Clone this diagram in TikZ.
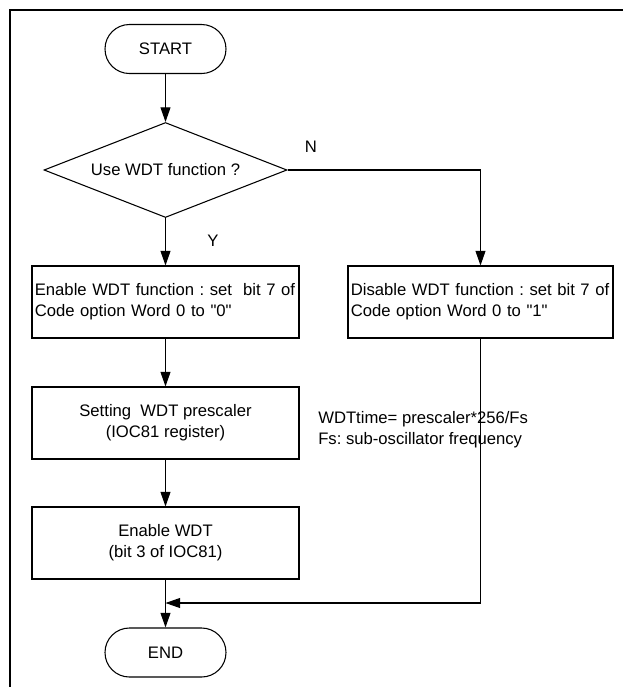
\documentclass[tikz,border=0pt]{standalone}
\usepackage{fontspec}
\setmainfont{Liberation Sans}[Ligatures=TeXOff]
\usetikzlibrary{arrows.meta,shapes.geometric}

\tikzset{
  base/.style={draw=black, line width=0.8pt, font=\fontsize{12.5pt}{15.75pt}\selectfont\frenchspacing},
  terminal/.style={base, rectangle, rounded corners=18.3pt,
    minimum width=90.75pt, minimum height=36.75pt, inner sep=0pt},
  decision/.style={base, diamond, aspect=2.56, minimum width=182.25pt, minimum height=71.25pt,
    inner sep=0pt},
  stepbox/.style={base, rectangle, minimum width=200.25pt, minimum height=54pt,
    inner xsep=2pt, inner ysep=0pt, align=center},
  leftbox/.style={stepbox, text width=196pt, align=left},
  flow/.style={line width=0.8pt, -{Triangle[length=11pt,width=7.5pt]}},
  label/.style={font=\fontsize{12.5pt}{15.75pt}\selectfont\frenchspacing, inner sep=0pt},
  frame/.style={line width=1.6pt, line cap=rect}
}

\begin{document}
\begin{tikzpicture}[x=0.75pt, y=-0.75pt]
  \useasboundingbox (0,0) rectangle (623,687);

  % page frame: top and left edges
  \draw[frame] (10,687) -- (10,10) -- (623,10);

  % flow nodes
  \node[terminal] (start) at (165.5,49) {START};
  \node[decision] (dec) at (165.5,170) {Use WDT function ?};
  \node[leftbox] (en) at (165.5,302)
    {\mbox{Enable WDT function : set~ bit 7 of}\\Code option Word 0 to "0"};
  \node[leftbox, minimum width=198.75pt, text width=194.5pt] (dis) at (480.5,302)
    {\mbox{Disable WDT function : set bit 7 of}\\Code option Word 0 to "1"};
  \node[stepbox] (pre) at (165.5,423) {Setting~ WDT prescaler\\(IOC81 register)};
  \node[stepbox] (wdt) at (165.5,543) {Enable WDT\\(bit 3 of IOC81)};
  \node[terminal] (end) at (165.5,652.5) {END};
  \coordinate (merge) at (165.5,603);

  % branch labels and note
  \node[label] (no) at (311,147) {N};
  \node[label] (yes) at (213,241) {Y};
  \node[label, anchor=west, align=left] (note) at (318,430)
    {WDTtime= prescaler*256/Fs\\Fs: sub-oscillator frequency};

  % connectors
  \draw[flow] (start) -- (dec);
  \draw[flow] (dec) -- (en);
  \draw[flow] (dec.east) -| (dis.north);
  \draw[flow] (en) -- (pre);
  \draw[flow] (pre) -- (wdt);
  \draw[flow] (wdt) -- (end);
  \draw[flow] (dis.south) |- (merge);
\end{tikzpicture}
\end{document}
